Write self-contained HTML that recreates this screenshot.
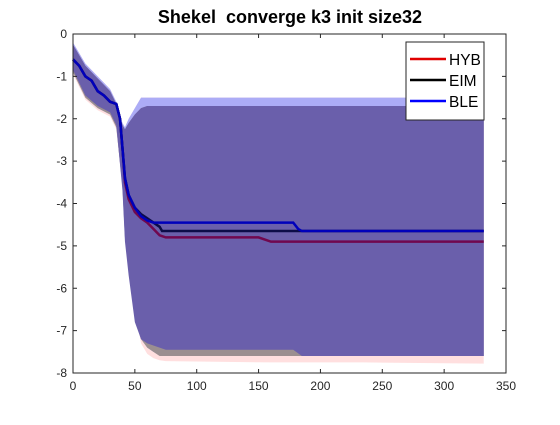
<!DOCTYPE html>
<html><head><meta charset="utf-8"><style>
body{margin:0;background:#fff;}
svg{font-family:"Liberation Sans",Arial,sans-serif;}
</style></head><body>
<svg id="c" width="560" height="420"></svg>
<script>
const bandX = [0,10,20,30,35,40,42,45,50,55,60,65,70,75,160,178,185,235,332];
const blueUpper = [-0.2,-0.7,-1.0,-1.3,-1.6,-2.1,-2.2,-2.0,-1.75,-1.5,-1.5,-1.5,-1.5,-1.5,-1.5,-1.5,-1.5,-1.5,-1.5];
const coreUpper = [-0.25,-0.75,-1.05,-1.35,-1.65,-2.15,-2.25,-2.1,-1.9,-1.75,-1.7,-1.7,-1.7,-1.7,-1.7,-1.7,-1.7,-1.7,-1.7];
const blueLower = [-0.9,-1.5,-1.75,-1.9,-2.2,-3.6,-4.8,-5.6,-6.7,-7.2,-7.4,-7.5,-7.55,-7.6,-7.6,-7.6,-7.6,-7.6,-7.6];
const redLower = [-0.95,-1.55,-1.8,-1.95,-2.25,-3.6,-4.6,-5.5,-6.5,-7.3,-7.55,-7.65,-7.7,-7.72,-7.75,-7.75,-7.75,-7.75,-7.78];
const blackLower = [-0.9,-1.5,-1.75,-1.9,-2.2,-3.6,-4.8,-5.6,-6.7,-7.2,-7.4,-7.5,-7.6,-7.6,-7.6,-7.6,-7.6,-7.6,-7.6];
const coreLower = [-0.85,-1.45,-1.7,-1.85,-2.15,-3.7,-4.9,-5.7,-6.8,-7.2,-7.3,-7.35,-7.4,-7.45,-7.45,-7.45,-7.6,-7.6,-7.6];
const hybX = [0,5,10,15,20,25,30,35,38,40,42,45,50,55,60,65,70,75,150,160,332];
const hybY = [-0.6,-0.75,-1.0,-1.1,-1.35,-1.45,-1.6,-1.65,-2.0,-2.7,-3.5,-3.9,-4.2,-4.35,-4.45,-4.6,-4.75,-4.8,-4.8,-4.9,-4.9];
const eimX = [0,5,10,15,20,25,30,35,38,40,42,45,50,55,60,65,70,72,332];
const eimY = [-0.6,-0.75,-1.0,-1.1,-1.35,-1.45,-1.6,-1.65,-2.0,-2.7,-3.4,-3.8,-4.1,-4.25,-4.35,-4.45,-4.55,-4.65,-4.65];
const bleX = [0,5,10,15,20,25,30,35,38,40,42,45,50,55,60,65,178,182,185,332];
const bleY = [-0.6,-0.75,-1.0,-1.1,-1.35,-1.45,-1.6,-1.65,-2.0,-2.7,-3.4,-3.8,-4.1,-4.3,-4.4,-4.45,-4.45,-4.6,-4.65,-4.65];
const xTicks = [0,50,100,150,200,250,300,350];
const yTicks = [0,-1,-2,-3,-4,-5,-6,-7,-8];
const legendLabels = ["HYB","EIM","BLE"];
const legendColors = ["#e00000","#000000","#0000ff"];

const L=73,R=506,T=34,B=373;
const sx=v=>L+(v-0)/350*(R-L);
const sy=v=>T+(0-v)/8*(B-T);
const svg=document.getElementById('c');
const NS='http://www.w3.org/2000/svg';
function mk(t,a){const e=document.createElementNS(NS,t);for(const k in a)e.setAttribute(k,a[k]);svg.appendChild(e);return e;}
function band(up,lo,fill,name){
  let p=bandX.map((x,i)=>sx(x)+','+sy(up[i]));
  for(let i=bandX.length-1;i>=0;i--)p.push(sx(bandX[i])+','+sy(lo[i]));
  const e=mk('polygon',{points:p.join(' '),fill:fill});
  
  
}
band(blueUpper,redLower,'#ffdfdf','hyb-band');
band(blueUpper,blueLower,'#acacf6','ble-band');
band(coreUpper,blackLower,'#9b8f90','eim-band');
band(coreUpper,coreLower,'#6a5fab','overlap-band');
function step(xs,ys,col,name){
  let d='M'+sx(xs[0])+','+sy(ys[0]);
  for(let i=1;i<xs.length;i++)d+=' L'+sx(xs[i])+','+sy(ys[i]);
  const e=mk('path',{d:d,fill:'none',stroke:col,'stroke-width':2.5});
  
  
}
step(hybX,hybY,'#70084f','hyb-line');
step(eimX,eimY,'#0c0c48','eim-line');
step(bleX,bleY,'#0000bb','ble-line');
const box=mk('rect',{x:L,y:T,width:R-L,height:B-T,fill:'none',stroke:'#262626','stroke-width':1});


xTicks.forEach(v=>{
  mk('line',{x1:sx(v),x2:sx(v),y1:B,y2:B-4,stroke:'#262626'});
  mk('line',{x1:sx(v),x2:sx(v),y1:T,y2:T+4,stroke:'#262626'});
  const t=mk('text',{x:sx(v),y:B+17,'text-anchor':'middle','font-size':12,fill:'#262626'});
  t.textContent=v;
  
  
});
yTicks.forEach(v=>{
  mk('line',{x1:L,x2:L+4,y1:sy(v),y2:sy(v),stroke:'#262626'});
  mk('line',{x1:R,x2:R-4,y1:sy(v),y2:sy(v),stroke:'#262626'});
  const t=mk('text',{x:L-6,y:sy(v)+4,'text-anchor':'end','font-size':12,fill:'#262626'});
  t.textContent=v;
  
  
});
const title=mk('text',{x:290,y:23,'text-anchor':'middle','font-size':18,'font-weight':'bold',fill:'#000'});
title.setAttribute('xml:space','preserve');
title.style.whiteSpace='pre';
title.textContent='Shekel  converge k3 init size32';


const lg=mk('rect',{x:406,y:42,width:78,height:78,fill:'#fff',stroke:'#262626'});


legendLabels.forEach((s,i)=>{
  const y=59+i*21;
  mk('line',{x1:410,x2:446,y1:y,y2:y,stroke:legendColors[i],'stroke-width':2.5});
  const t=mk('text',{x:449,y:y+6,'font-size':15.5,fill:'#000'});
  t.textContent=s;
  
  
});
</script>
</body></html>
